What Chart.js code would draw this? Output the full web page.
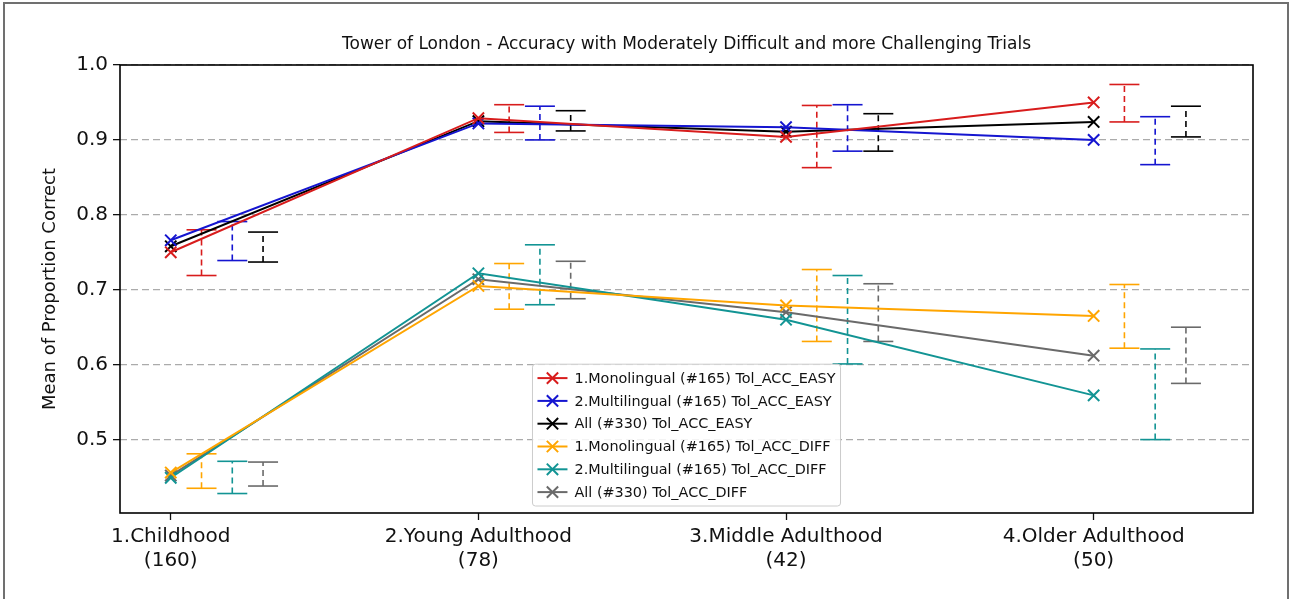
<!DOCTYPE html>
<html>
<head>
<meta charset="utf-8">
<script src="https://cdn.jsdelivr.net/npm/chart.js@4.4.0/dist/chart.umd.min.js"></script>
<style>
  html, body { margin: 0; padding: 0; background: #fff; }
  #wrap { position: relative; width: 1291px; height: 599px; overflow: hidden; }
  #wrap canvas { position: absolute; left: 0; top: 0; }
  #frame { position: absolute; left: 3px; top: 2px; width: 1282px; height: 640px;
           border: 2px solid #707070; border-bottom: none; pointer-events: none; }
</style>
</head>
<body>
<div id="wrap">
  <canvas id="chart" width="1291" height="599"></canvas>
  <div id="frame"></div>
</div>
<script>
// Age groups (sample sizes) along the x axis
const categories = [
  ['1.Childhood', '(160)'],
  ['2.Young Adulthood', '(78)'],
  ['3.Middle Adulthood', '(42)'],
  ['4.Older Adulthood', '(50)']
];
const yTicks = [0.5, 0.6, 0.7, 0.8, 0.9, 1.0];

// Mean proportion correct per age group
const easyMono  = [0.750, 0.929, 0.904, 0.950];
const easyMulti = [0.766, 0.922, 0.917, 0.900];
const easyAll   = [0.758, 0.925, 0.911, 0.924];
const diffMono  = [0.456, 0.705, 0.679, 0.665];
const diffMulti = [0.449, 0.722, 0.660, 0.559];
const diffAll   = [0.452, 0.714, 0.670, 0.612];

// Confidence interval bounds per age group
const easyMonoLow   = [0.719, 0.910, 0.863, 0.924];
const easyMonoHigh  = [0.780, 0.947, 0.946, 0.974];
const easyMultiLow  = [0.739, 0.900, 0.885, 0.867];
const easyMultiHigh = [0.791, 0.945, 0.947, 0.931];
const easyAllLow    = [0.737, 0.912, 0.885, 0.904];
const easyAllHigh   = [0.777, 0.939, 0.935, 0.945];
const diffMonoLow   = [0.435, 0.674, 0.631, 0.622];
const diffMonoHigh  = [0.481, 0.735, 0.727, 0.707];
const diffMultiLow  = [0.428, 0.680, 0.601, 0.500];
const diffMultiHigh = [0.471, 0.760, 0.719, 0.621];
const diffAllLow    = [0.438, 0.688, 0.631, 0.575];
const diffAllHigh   = [0.470, 0.738, 0.708, 0.650];

const FONT = "'DejaVu Sans', sans-serif";
const TEXT = '#111111';

const series = [
  { label: '1.Monolingual (#165) Tol_ACC_EASY',  color: '#d81c1c', mean: easyMono,  low: easyMonoLow,  high: easyMonoHigh,  offset: 0.1 },
  { label: '2.Multilingual (#165) Tol_ACC_EASY', color: '#1515d0', mean: easyMulti, low: easyMultiLow, high: easyMultiHigh, offset: 0.2 },
  { label: 'All (#330) Tol_ACC_EASY',            color: '#000000', mean: easyAll,   low: easyAllLow,   high: easyAllHigh,   offset: 0.3 },
  { label: '1.Monolingual (#165) Tol_ACC_DIFF',  color: '#ffa500', mean: diffMono,  low: diffMonoLow,  high: diffMonoHigh,  offset: 0.1 },
  { label: '2.Multilingual (#165) Tol_ACC_DIFF', color: '#129494', mean: diffMulti, low: diffMultiLow, high: diffMultiHigh, offset: 0.2 },
  { label: 'All (#330) Tol_ACC_DIFF',            color: '#6a6a6a', mean: diffAll,   low: diffAllLow,   high: diffAllHigh,   offset: 0.3 }
];

const datasets = [];
series.forEach(s => {
  datasets.push({
    label: s.label,
    inKey: true,
    data: s.mean.map((v, i) => ({ x: i, y: v })),
    borderColor: s.color,
    borderWidth: 2,
    pointStyle: 'crossRot',
    pointRadius: 8,
    pointHoverRadius: 8,
    pointBorderWidth: 2,
    pointBorderColor: s.color,
    pointBackgroundColor: s.color,
    fill: false,
    tension: 0,
    order: 0
  });
});
// error bars: dashed vertical segment with solid caps, shifted right of each group
series.forEach(s => {
  const pts = [];
  s.low.forEach((lo, i) => {
    pts.push({ x: i + s.offset, y: lo });
    pts.push({ x: i + s.offset, y: s.high[i] });
    pts.push({ x: i + s.offset, y: null });
  });
  datasets.push({
    label: s.label + ' CI',
    inKey: false,
    data: pts,
    borderColor: s.color,
    borderWidth: 1.6,
    borderDash: [6, 4],
    pointStyle: 'line',
    pointRadius: 15,
    pointHoverRadius: 15,
    pointBorderWidth: 1.6,
    pointBorderColor: s.color,
    spanGaps: false,
    fill: false,
    order: 1
  });
});

const frameTitleLegend = {
  id: 'frameTitleLegend',
  afterDraw(chart) {
    const { ctx, chartArea: a } = chart;
    ctx.save();
    // axes box
    ctx.strokeStyle = '#000';
    ctx.lineWidth = 1.6;
    ctx.setLineDash([]);
    ctx.strokeRect(a.left, a.top, a.right - a.left, a.bottom - a.top);

    // title
    ctx.fillStyle = TEXT;
    ctx.font = '17px ' + FONT;
    ctx.textAlign = 'center';
    ctx.textBaseline = 'middle';
    ctx.fillText('Tower of London - Accuracy with Moderately Difficult and more Challenging Trials',
                 (a.left + a.right) / 2, a.top - 20);

    // legend (lower centre, inside the axes)
    const entries = chart.data.datasets.filter(d => d.inKey);
    const fs = 14.4, rowH = 22.8, padX = 5, padY = 2.5, handle = 30, gap = 7;
    ctx.font = fs + 'px ' + FONT;
    const maxW = Math.max(...entries.map(d => ctx.measureText(d.label).width));
    const w = padX + handle + gap + maxW + padX;
    const h = padY * 2 + entries.length * rowH;
    const x0 = (a.left + a.right) / 2 - w / 2;
    const y0 = a.bottom - 7 - h;
    ctx.beginPath();
    ctx.roundRect(x0, y0, w, h, 3);
    ctx.fillStyle = 'rgba(255,255,255,0.85)';
    ctx.fill();
    ctx.strokeStyle = '#cccccc';
    ctx.lineWidth = 1;
    ctx.stroke();
    entries.forEach((d, i) => {
      const cy = y0 + padY + rowH * (i + 0.5);
      const hx = x0 + padX;
      ctx.strokeStyle = d.borderColor;
      ctx.lineWidth = 2;
      ctx.beginPath();
      ctx.moveTo(hx, cy);
      ctx.lineTo(hx + handle, cy);
      ctx.stroke();
      const mx = hx + handle / 2, r = 8 * Math.SQRT1_2;
      ctx.beginPath();
      ctx.moveTo(mx - r, cy - r); ctx.lineTo(mx + r, cy + r);
      ctx.moveTo(mx - r, cy + r); ctx.lineTo(mx + r, cy - r);
      ctx.stroke();
      ctx.fillStyle = TEXT;
      ctx.textAlign = 'left';
      ctx.textBaseline = 'middle';
      ctx.fillText(d.label, hx + handle + gap, cy + 1);
    });
    ctx.restore();
  }
};

new Chart(document.getElementById('chart'), {
  type: 'line',
  data: { datasets },
  options: {
    responsive: false,
    devicePixelRatio: 1,
    animation: false,
    events: [],
    layout: { padding: { top: 65, right: 38, left: 0, bottom: 0 } },
    plugins: { legend: { display: false }, tooltip: { enabled: false }, title: { display: false } },
    scales: {
      x: {
        type: 'linear',
        min: -0.165,
        max: 3.518,
        afterBuildTicks: s => { s.ticks = categories.map((c, i) => ({ value: i })); },
        afterFit: s => { s.height = 86; },
        ticks: {
          autoSkip: false,
          maxRotation: 0,
          padding: 5,
          color: TEXT,
          font: { family: FONT, size: 20, lineHeight: 1.2 },
          callback: (v, i) => categories[i]
        },
        grid: { drawOnChartArea: false, drawTicks: true, tickLength: 7, tickColor: '#111', tickWidth: 1.3 },
        border: { display: false }
      },
      y: {
        type: 'linear',
        min: 0.402,
        max: 1.0,
        afterBuildTicks: s => { s.ticks = yTicks.map(v => ({ value: v })); },
        afterFit: s => { s.width = 120; },
        ticks: {
          padding: 5,
          color: TEXT,
          font: { family: FONT, size: 20 },
          callback: v => v.toFixed(1)
        },
        grid: {
          color: '#ababab', lineWidth: 1.3,
          drawTicks: true, tickLength: 7, tickColor: '#111', tickWidth: 1.3, tickBorderDash: []
        },
        border: { display: false, dash: [7, 4] },
        title: {
          display: true,
          text: 'Mean of Proportion Correct',
          color: TEXT,
          font: { family: FONT, size: 18 },
          padding: { top: 40, bottom: 0 }
        }
      }
    }
  },
  plugins: [frameTitleLegend]
});
</script>
</body>
</html>
